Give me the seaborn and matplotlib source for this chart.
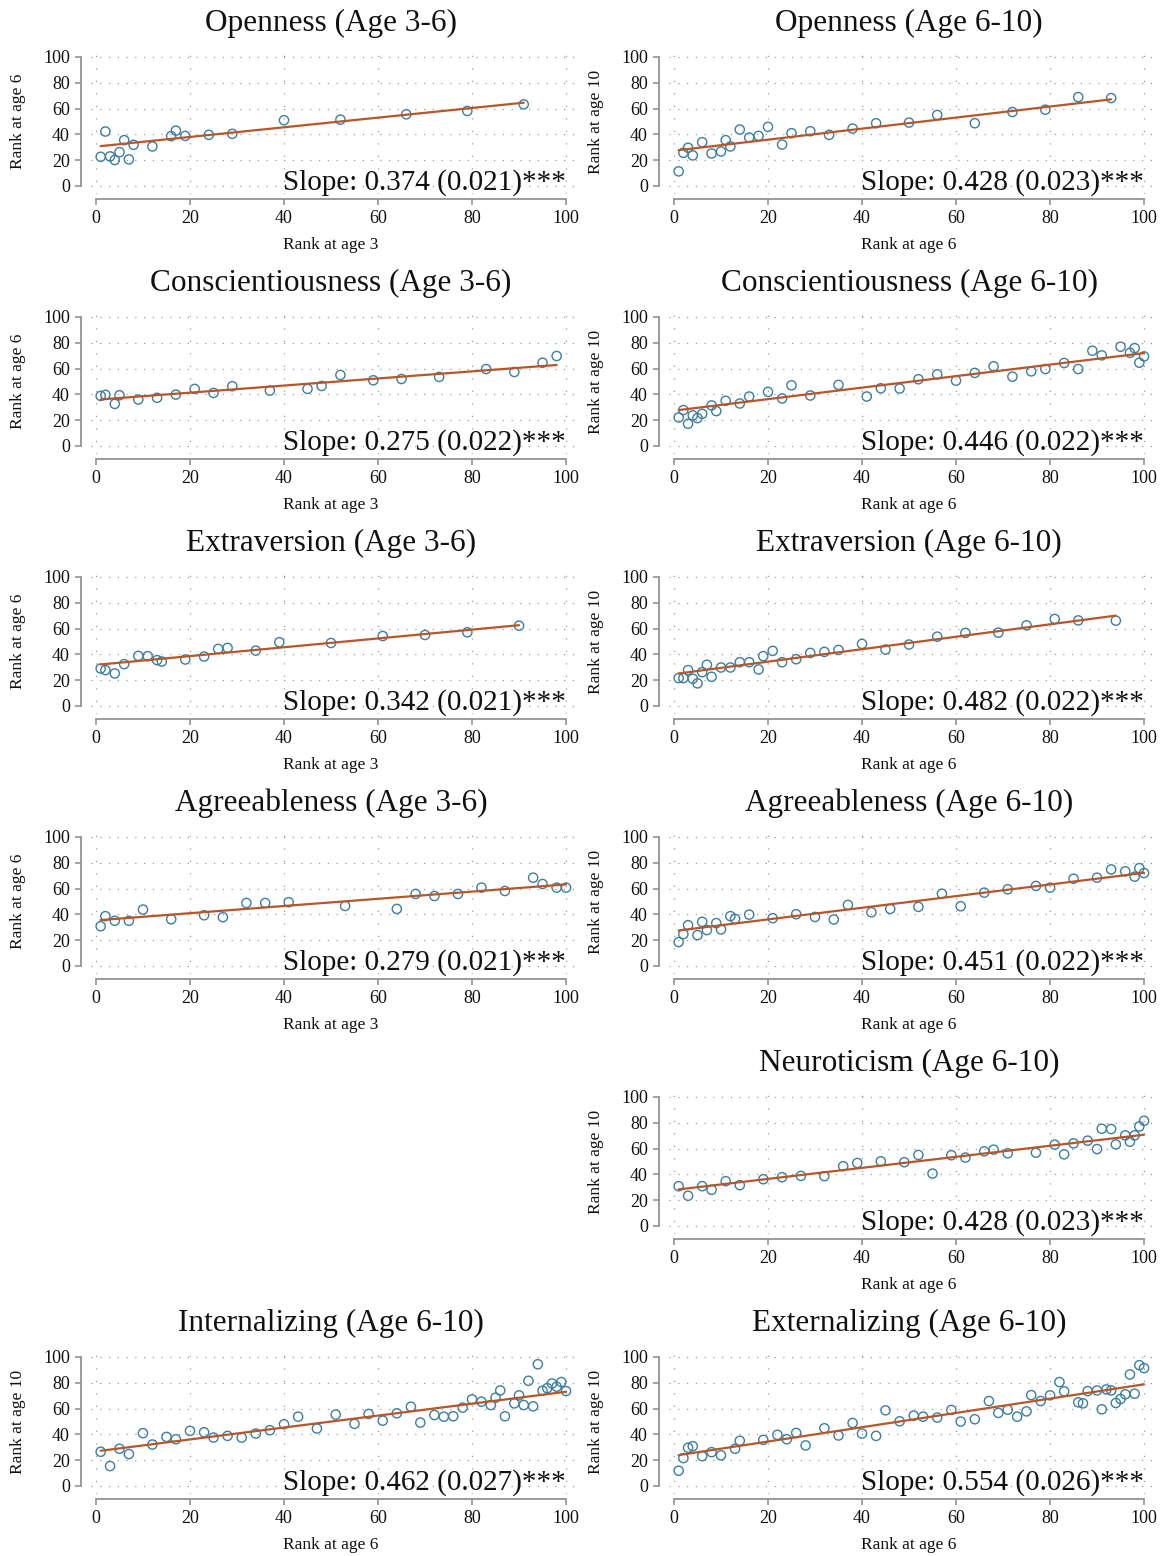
import numpy as np
import pandas as pd
import matplotlib
matplotlib.use("Agg")
import matplotlib.pyplot as plt
import seaborn as sns

sns.set_style("white")
plt.rcParams["font.family"] = ["Liberation Serif", "DejaVu Serif"]

# ---------------- data (binned ranks) ----------------
open36_x = [1, 2, 3, 4, 5, 6, 7, 8, 12, 16, 17, 19, 24, 29, 40, 52, 66, 79, 91]
open36_y = [22.6, 42.2, 22.9, 20.1, 26.2, 35.5, 20.6, 31.9, 30.6, 38.6, 42.9, 38.8, 39.6, 40.4, 50.9, 51.4, 55.5, 58.1, 63.2]

open610_x = [1, 2, 3, 4, 6, 8, 10, 11, 12, 14, 16, 18, 20, 23, 25, 29, 33, 38, 43, 50, 56, 64, 72, 79, 86, 93]
open610_y = [11.3, 25.7, 29.6, 23.7, 33.9, 25.2, 26.7, 35.5, 30.6, 43.7, 37.5, 38.8, 45.8, 32.1, 40.9, 42.4, 39.6, 44.5, 48.6, 49.1, 55.0, 48.6, 57.3, 59.1, 68.9, 68.1]

cons36_x = [1, 2, 4, 5, 9, 13, 17, 21, 25, 29, 37, 45, 48, 52, 59, 65, 73, 83, 89, 95, 98]
cons36_y = [38.8, 39.6, 32.6, 39.3, 36.0, 37.3, 39.8, 44.2, 41.1, 46.3, 42.9, 44.2, 46.5, 55.0, 50.9, 51.9, 53.5, 59.6, 57.3, 64.5, 69.7]

cons610_x = [1, 2, 3, 4, 5, 6, 8, 9, 11, 14, 16, 20, 23, 25, 29, 35, 41, 44, 48, 52, 56, 60, 64, 68, 72, 76, 79, 83, 86, 89, 91, 95, 97, 98, 99, 100]
cons610_y = [22.1, 27.8, 17.2, 23.7, 21.6, 24.9, 31.4, 27.0, 35.0, 32.9, 38.3, 41.9, 36.8, 47.0, 39.1, 47.3, 38.3, 44.7, 44.5, 51.7, 55.5, 50.6, 56.6, 61.7, 53.7, 57.8, 59.6, 64.3, 59.6, 73.8, 70.2, 76.9, 72.2, 75.8, 64.5, 69.4]

extr36_x = [1, 2, 4, 6, 9, 11, 13, 14, 19, 23, 26, 28, 34, 39, 50, 61, 70, 79, 90]
extr36_y = [29.0, 27.8, 25.2, 32.4, 38.8, 38.6, 35.5, 34.4, 36.0, 38.3, 44.2, 45.0, 42.9, 49.4, 48.8, 54.2, 55.0, 57.1, 62.2]

extr610_x = [1, 2, 3, 4, 5, 6, 7, 8, 10, 12, 14, 16, 18, 19, 21, 23, 26, 29, 32, 35, 40, 45, 50, 56, 62, 69, 75, 81, 86, 94]
extr610_y = [21.6, 21.6, 27.8, 21.1, 17.5, 26.2, 31.9, 22.6, 29.8, 29.8, 33.9, 33.9, 28.3, 38.6, 42.7, 33.9, 36.2, 41.1, 41.9, 43.4, 48.1, 43.7, 47.6, 53.7, 56.6, 56.8, 62.5, 67.4, 66.3, 66.1]

agre36_x = [1, 2, 4, 7, 10, 16, 23, 27, 32, 36, 41, 53, 64, 68, 72, 77, 82, 87, 93, 95, 98, 100]
agre36_y = [30.8, 38.6, 35.0, 35.0, 43.7, 36.2, 39.3, 37.8, 48.8, 48.8, 49.4, 46.5, 44.2, 55.8, 54.2, 55.8, 60.7, 58.1, 68.4, 63.5, 60.7, 60.7]

agre610_x = [1, 2, 3, 5, 6, 7, 9, 10, 12, 13, 16, 21, 26, 30, 34, 37, 42, 46, 52, 57, 61, 66, 71, 77, 80, 85, 90, 93, 96, 98, 99, 100]
agre610_y = [18.5, 24.7, 31.6, 23.9, 34.2, 27.8, 33.2, 28.3, 38.6, 36.5, 39.8, 37.0, 40.1, 38.0, 36.0, 47.3, 41.6, 44.2, 45.8, 56.0, 46.3, 56.8, 59.4, 62.0, 60.7, 67.6, 68.4, 74.8, 73.3, 69.2, 75.8, 72.0]

neur610_x = [1, 3, 6, 8, 11, 14, 19, 23, 27, 32, 36, 39, 44, 49, 52, 55, 59, 62, 66, 68, 71, 77, 81, 83, 85, 88, 90, 91, 93, 94, 96, 97, 98, 99, 100]
neur610_y = [30.8, 23.4, 30.8, 28.0, 34.7, 31.6, 36.2, 37.8, 38.8, 38.6, 46.3, 48.8, 50.1, 49.4, 55.0, 40.6, 54.8, 53.0, 57.8, 59.1, 56.3, 56.8, 63.0, 55.5, 64.0, 66.1, 59.6, 75.3, 75.1, 63.2, 70.2, 65.3, 70.2, 77.1, 81.5]

inte610_x = [1, 3, 5, 7, 10, 12, 15, 17, 20, 23, 25, 28, 31, 34, 37, 40, 43, 47, 51, 55, 58, 61, 64, 67, 69, 72, 74, 76, 78, 80, 82, 84, 85, 86, 87, 89, 90, 91, 92, 93, 94, 95, 96, 97, 98, 99, 100]
inte610_y = [26.5, 15.4, 28.8, 24.7, 40.9, 32.1, 38.0, 36.2, 42.7, 41.6, 37.5, 38.8, 37.5, 40.6, 43.2, 47.8, 53.7, 44.5, 55.3, 48.1, 55.8, 50.6, 56.3, 61.4, 49.1, 55.0, 53.7, 54.0, 60.7, 67.1, 65.3, 62.7, 68.4, 74.0, 54.0, 64.0, 70.2, 62.7, 81.5, 61.7, 94.3, 73.8, 75.8, 79.4, 76.9, 80.5, 73.5]

exte610_x = [1, 2, 3, 4, 6, 8, 10, 13, 14, 19, 22, 24, 26, 28, 32, 35, 38, 40, 43, 45, 48, 51, 53, 56, 59, 61, 64, 67, 69, 71, 73, 75, 76, 78, 80, 82, 83, 86, 87, 88, 90, 91, 92, 93, 94, 95, 96, 97, 98, 99, 100]
exte610_y = [11.8, 21.6, 29.6, 30.8, 23.1, 26.2, 23.7, 28.8, 35.0, 35.7, 39.6, 36.2, 41.1, 31.4, 44.7, 39.1, 48.8, 40.6, 38.8, 58.6, 50.1, 54.5, 53.7, 53.0, 58.9, 49.9, 51.7, 65.8, 56.6, 59.1, 53.7, 57.8, 70.4, 65.8, 70.2, 80.5, 73.3, 64.8, 64.0, 73.5, 74.0, 59.4, 74.8, 74.0, 64.3, 67.4, 71.0, 86.4, 71.5, 93.6, 91.3]

titles = ["Openness (Age 3-6)", "Openness (Age 6-10)",
          "Conscientiousness (Age 3-6)", "Conscientiousness (Age 6-10)",
          "Extraversion (Age 3-6)", "Extraversion (Age 6-10)",
          "Agreeableness (Age 3-6)", "Agreeableness (Age 6-10)",
          "Neuroticism (Age 6-10)",
          "Internalizing (Age 6-10)", "Externalizing (Age 6-10)"]
xlabels = ["Rank at age 3", "Rank at age 6"] * 4 + ["Rank at age 6"] * 3
ylabels = ["Rank at age 6", "Rank at age 10"] * 4 + ["Rank at age 10"] * 3
slopes = [0.374, 0.428, 0.275, 0.446, 0.342, 0.482, 0.279, 0.451, 0.428, 0.462, 0.554]
ses = [0.021, 0.023, 0.022, 0.022, 0.021, 0.022, 0.021, 0.022, 0.023, 0.027, 0.026]
intercepts = [30.5, 27.3, 35.8, 27.35, 31.8, 24.7, 35.3, 27.05, 27.9, 26.8, 23.35]
stars = ["***"] * 11

xs_all = [open36_x, open610_x, cons36_x, cons610_x, extr36_x, extr610_x,
          agre36_x, agre610_x, neur610_x, inte610_x, exte610_x]
ys_all = [open36_y, open610_y, cons36_y, cons610_y, extr36_y, extr610_y,
          agre36_y, agre610_y, neur610_y, inte610_y, exte610_y]

# grid positions (row, col)
cells = [(0, 0), (0, 1), (1, 0), (1, 1), (2, 0), (2, 1), (3, 0), (3, 1), (4, 1), (5, 0), (5, 1)]

# ---------------- styling ----------------
W, H = 1164, 1556
fig = plt.figure(figsize=(W / 100, H / 100), dpi=100)
fig.patch.set_facecolor("white")

PT_COLOR = "#3a7f9f"
LN_COLOR = "#b5562b"
SPINE_C = "#8a8a8a"
GRID_C = "#9a9a9a"

col_left = [90.8, 668.8]
ax_w, ax_h = 487.0, 149.7
XMIN, XMAX = -1.1, 102.5
YMIN, YMAX = -6.0, 110.0

for i, (r, c) in enumerate(cells):
    top = 44.0 + 260.0 * r
    ax = fig.add_axes([col_left[c] / W, 1 - (top + ax_h) / H, ax_w / W, ax_h / H])
    ax.set_xlim(XMIN, XMAX)
    ax.set_ylim(YMIN, YMAX)
    ax.set_xticks([0, 20, 40, 60, 80, 100])
    ax.set_yticks([0, 20, 40, 60, 80, 100])
    ax.grid(axis="x", color=GRID_C, linestyle=(0, (1, 9)), linewidth=0.9)
    ax.grid(axis="y", color=GRID_C, linestyle=(0, (1, 6)), linewidth=0.9)
    ax.set_axisbelow(True)

    df = pd.DataFrame({"x": xs_all[i], "y": ys_all[i]})
    sns.scatterplot(data=df, x="x", y="y", ax=ax, marker="o", s=44,
                    facecolors="none", edgecolor=PT_COLOR, linewidth=1.0, zorder=3)

    xl = np.array([min(xs_all[i]), max(xs_all[i])], dtype=float)
    yl = intercepts[i] + slopes[i] * xl
    sns.lineplot(x=xl, y=yl, ax=ax, color=LN_COLOR, linewidth=1.6, zorder=4)

    ax.text(100, -2.5, f"Slope: {slopes[i]:.3f} ({ses[i]:.3f}){stars[i]}",
            ha="right", va="baseline", fontsize=21, color="#111111", zorder=5)

    for s in ["top", "right"]:
        ax.spines[s].set_visible(False)
    ax.spines["left"].set_position(("outward", 7))
    ax.spines["bottom"].set_position(("outward", 4))
    ax.spines["left"].set_bounds(0, 100)
    ax.spines["bottom"].set_bounds(0, 100)
    for s in ["left", "bottom"]:
        ax.spines[s].set_color(SPINE_C)
        ax.spines[s].set_linewidth(1.2)
    ax.tick_params(axis="both", which="major", direction="out", length=4, width=1.1,
                   color=SPINE_C, labelcolor="#111111", labelsize=13, pad=4,
                   left=True, bottom=True)

    ax.set_title(titles[i], fontsize=22.5, color="#111111",
                 x=(50 - XMIN) / (XMAX - XMIN), pad=9)
    ax.set_xlabel(xlabels[i], fontsize=12.5, color="#111111")
    ax.set_ylabel(ylabels[i], fontsize=12.5, color="#111111")
    ax.xaxis.set_label_coords((50 - XMIN) / (XMAX - XMIN), -0.345)
    ax.xaxis.label.set_va("center")
    ax.yaxis.set_label_coords(-0.149, 0.482)
    ax.yaxis.label.set_va("center")

fig.savefig("out.png", dpi=100, facecolor="white")
